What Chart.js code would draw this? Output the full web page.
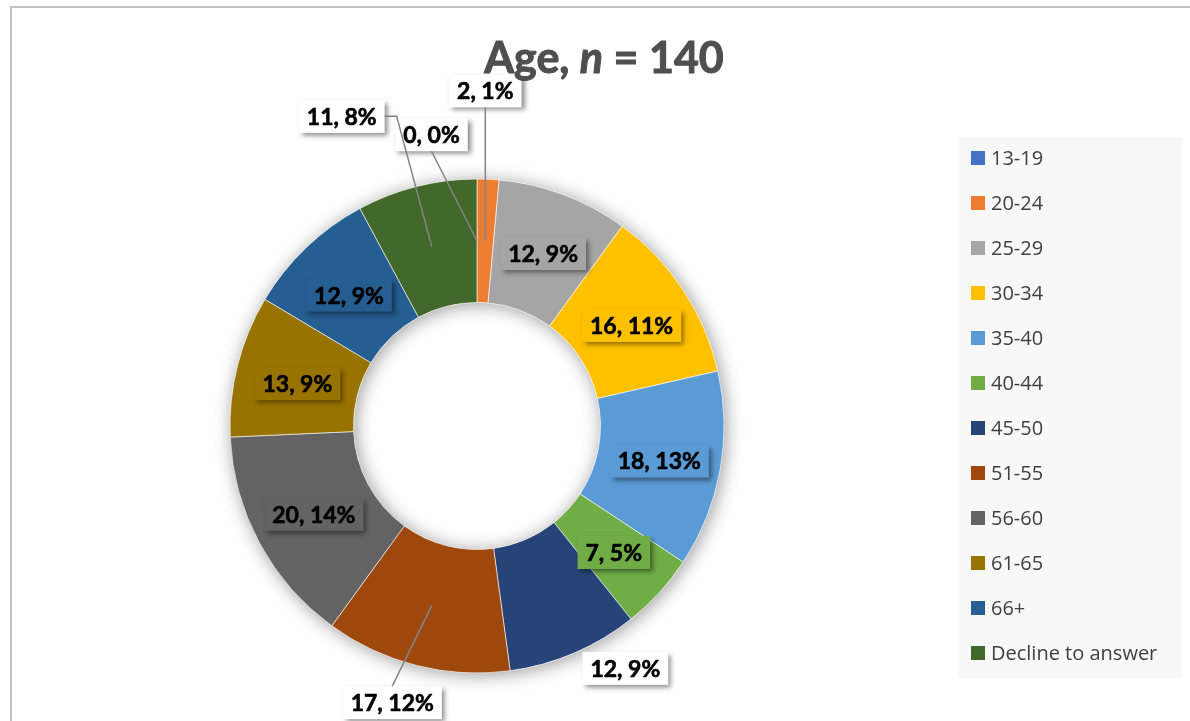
<!DOCTYPE html>
<html>
<head>
<meta charset="utf-8">
<title>Age, n = 140</title>
<script src="https://cdn.jsdelivr.net/npm/chart.js@4.4.1/dist/chart.umd.min.js"></script>
<style>
  html, body { margin: 0; padding: 0; background: #ffffff; overflow: hidden; }
  canvas { display: block; }
</style>
</head>
<body>
<canvas id="ageChart" width="1190" height="721"></canvas>
<script>
// Age groups of the 140 respondents
const categories = ['13-19', '20-24', '25-29', '30-34', '35-40', '40-44', '45-50', '51-55', '56-60', '61-65', '66+', 'Decline to answer'];
const counts = [0, 2, 12, 16, 18, 7, 12, 17, 20, 13, 12, 11];

// Office-style slice colours, one per age group
const sliceColors = ['#4472C4', '#ED7D31', '#A5A5A5', '#FFC000', '#5B9BD5', '#70AD47',
                     '#264478', '#9E480E', '#636363', '#997300', '#255E91', '#43682B'];

// Where each data label sits relative to the middle of its slice (px),
// whether it gets a white call-out box, and where its leader line leaves the box
const labelPlacement = [
  { dx: -45.5, dy: -106, outside: true, leader: 'bottom' },
  { dx: 0,     dy: -150, outside: true, leader: 'bottom' },
  { dx: 1,     dy: 1 },
  { dx: 0,     dy: 1.5 },
  { dx: 0,     dy: 2 },
  { dx: 0,     dy: 1.5 },
  { dx: 75.5,  dy: 72,   outside: true },
  { dx: -39.5, dy: 97,   outside: true, leader: 'top' },
  { dx: 0,     dy: 0.5 },
  { dx: 0,     dy: 3 },
  { dx: 0,     dy: 3 },
  { dx: -90,   dy: -130, outside: true, leader: 'right' }
];

const total = counts.reduce((s, v) => s + v, 0);

// Outer frame of the chart object
const framePlugin = {
  id: 'frame',
  beforeDraw(chart) {
    const ctx = chart.ctx;
    ctx.save();
    ctx.fillStyle = '#ffffff';
    ctx.fillRect(0, 0, chart.width, chart.height);
    ctx.strokeStyle = '#c3c3c3';
    ctx.lineWidth = 2;
    ctx.strokeRect(11, 7, chart.width + 20, chart.height + 20);
    ctx.restore();
  }
};

// Soft drop shadow under the whole ring
const ringShadowPlugin = {
  id: 'ringShadow',
  beforeDatasetsDraw(chart) {
    const meta = chart.getDatasetMeta(0);
    if (!meta.data.length) return;
    const p = meta.data[0].getProps(['x', 'y', 'innerRadius', 'outerRadius'], true);
    const ctx = chart.ctx;
    ctx.save();
    ctx.shadowColor = 'rgba(0,0,0,0.4)';
    ctx.shadowBlur = 18;
    ctx.shadowOffsetX = 2;
    ctx.shadowOffsetY = 2;
    ctx.fillStyle = '#ffffff';
    ctx.beginPath();
    ctx.arc(p.x, p.y, p.outerRadius, 0, Math.PI * 2);
    ctx.moveTo(p.x + p.innerRadius, p.y);
    ctx.arc(p.x, p.y, p.innerRadius, 0, Math.PI * 2, true);
    ctx.fill();
    ctx.restore();
  }
};

// "count, percent" call-outs with shadows and leader lines
const dataLabelPlugin = {
  id: 'dataLabels',
  afterDatasetsDraw(chart) {
    const ctx = chart.ctx;
    const meta = chart.getDatasetMeta(0);
    const colors = chart.data.datasets[0].backgroundColor;
    const values = chart.data.datasets[0].data;
    const boxH = 33, padX = 8;
    ctx.save();
    ctx.font = 'bold 23px Lato';
    ctx.textAlign = 'center';
    ctx.textBaseline = 'middle';

    const boxes = meta.data.map((arc, i) => {
      const p = arc.getProps(['x', 'y', 'startAngle', 'endAngle', 'innerRadius', 'outerRadius'], true);
      const mid = (p.startAngle + p.endAngle) / 2;
      const r = (p.innerRadius + p.outerRadius) / 2;
      const ax = p.x + Math.cos(mid) * r;
      const ay = p.y + Math.sin(mid) * r;
      const text = values[i] + ', ' + Math.round(values[i] / total * 100) + '%';
      const w = ctx.measureText(text).width + padX * 2;
      const pl = labelPlacement[i];
      return { ax, ay, cx: ax + pl.dx, cy: ay + pl.dy, w, text, pl, fill: pl.outside ? '#ffffff' : colors[i] };
    });

    // boxes with drop shadow
    boxes.forEach(b => {
      ctx.save();
      ctx.shadowColor = 'rgba(0,0,0,0.45)';
      ctx.shadowBlur = 5;
      ctx.shadowOffsetX = 3;
      ctx.shadowOffsetY = 3;
      ctx.fillStyle = b.fill;
      ctx.fillRect(b.cx - b.w / 2, b.cy - boxH / 2, b.w, boxH);
      ctx.restore();
    });

    // leader lines
    ctx.strokeStyle = '#858585';
    ctx.lineWidth = 1.5;
    boxes.forEach(b => {
      if (!b.pl.leader) return;
      ctx.beginPath();
      if (b.pl.leader === 'bottom') {
        ctx.moveTo(b.cx, b.cy + boxH / 2);
      } else if (b.pl.leader === 'top') {
        ctx.moveTo(b.cx, b.cy - boxH / 2);
      } else {
        ctx.moveTo(b.cx + b.w / 2, b.cy);
        ctx.lineTo(b.cx + b.w / 2 + 12, b.cy);
      }
      ctx.lineTo(b.ax, b.ay);
      ctx.stroke();
    });

    // label text, slightly thickened
    ctx.fillStyle = '#000000';
    ctx.strokeStyle = '#000000';
    ctx.lineWidth = 0.6;
    ctx.lineJoin = 'round';
    boxes.forEach(b => {
      ctx.fillText(b.text, b.cx, b.cy + 1);
      ctx.strokeText(b.text, b.cx, b.cy + 1);
    });
    ctx.restore();
  }
};

// Title with italic n, and the legend panel on the right
const titleLegendPlugin = {
  id: 'titleLegend',
  afterDraw(chart) {
    const ctx = chart.ctx;
    ctx.save();
    // title
    const parts = [
      { t: 'Age, ', f: 'bold 43px Lato' },
      { t: 'n', f: 'italic bold 43px Lato' },
      { t: ' = 140', f: 'bold 43px Lato' }
    ];
    let tw = 0;
    parts.forEach(p => { ctx.font = p.f; p.w = ctx.measureText(p.t).width; tw += p.w; });
    let x = 604 - tw / 2;
    ctx.fillStyle = '#4f4f4f';
    ctx.strokeStyle = '#4f4f4f';
    ctx.lineWidth = 1;
    ctx.lineJoin = 'round';
    ctx.textBaseline = 'alphabetic';
    ctx.textAlign = 'left';
    parts.forEach(p => {
      ctx.font = p.f;
      ctx.fillText(p.t, x, 73);
      ctx.strokeText(p.t, x, 73);
      x += p.w;
    });

    // legend
    ctx.fillStyle = '#f8f8f8';
    ctx.fillRect(958, 137, 224, 541);
    const labels = chart.data.labels;
    const colors = chart.data.datasets[0].backgroundColor;
    ctx.font = '20px "Open Sans"';
    ctx.textBaseline = 'middle';
    labels.forEach((lab, i) => {
      const y = 158 + i * 45;
      ctx.fillStyle = colors[i];
      ctx.fillRect(971, y - 7, 14, 14);
      ctx.fillStyle = '#404040';
      ctx.fillText(lab, 991, y + 1);
    });
    ctx.restore();
  }
};

new Chart(document.getElementById('ageChart'), {
  type: 'doughnut',
  data: {
    labels: categories,
    datasets: [{
      data: counts,
      backgroundColor: sliceColors,
      borderColor: '#ffffff',
      borderWidth: 0.6,
      hoverOffset: 0
    }]
  },
  options: {
    responsive: false,
    animation: false,
    events: [],
    radius: 247,
    cutout: '50%',
    layout: { padding: { left: 230, top: 179, right: 466, bottom: 48 } },
    plugins: {
      legend: { display: false },
      title: { display: false },
      tooltip: { enabled: false }
    }
  },
  plugins: [framePlugin, ringShadowPlugin, dataLabelPlugin, titleLegendPlugin]
});
</script>
</body>
</html>
